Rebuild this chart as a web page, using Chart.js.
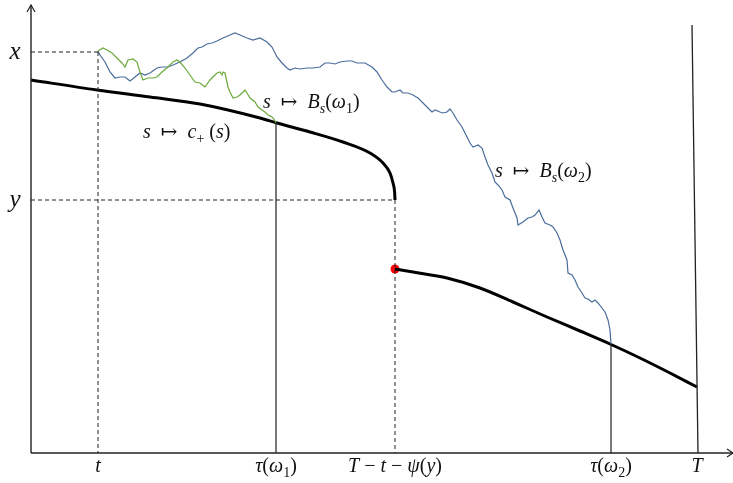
<!DOCTYPE html>
<html>
<head>
<meta charset="utf-8">
<script src="https://cdn.jsdelivr.net/npm/chart.js@4"></script>
<style>html,body{margin:0;padding:0;background:#fff}</style>
</head>
<body>
<canvas id="myChart" width="733" height="483"></canvas>
<script>
// sample paths s -> B_s(w1), s -> B_s(w2)
const greenPath = [[67,402],[72,405],[76,403],[81,400],[86,395],[91,390],[94,386],[97,393],[102,394],[106,391],
  [109,381],[112,373],[117,375],[122,375],[126,376],[131,381],[137,386],[142,391],[146,393],[149,391],[154,385],
  [159,378],[164,371],[169,370],[174,366],[179,373],[182,376],[186,380],[189,381],
  [191,378],[192,381],[194,380],[197,366],[199,361],[202,355],[206,356],[209,358],[212,361],[214,363],[216,360],
  [219,355],[224,351],[227,346],[231,343],[234,341],[237,338],[241,336],[243,334],[245,330]];
const bluePath = [[67,402],[69,398],[74,391],[79,381],[84,375],[89,376],[94,376],[99,372],[104,376],[109,380],
  [114,378],[119,380],[126,385],[131,386],[137,386],[142,388],[149,391],[156,395],[162,400],[167,405],
  [171,406],[176,409],[181,410],[186,412],[192,415],
  [199,418],[204,420],[209,418],[216,415],[222,413],[229,415],[236,411],[241,406],[246,396],[251,390],[256,385],
  [259,383],[264,385],[269,384],[276,385],[282,385],[289,386],[294,390],[299,390],[304,389],[309,391],[316,392],
  [321,392],[326,390],[334,390],[341,386],[346,381],[351,373],[356,366],[361,361],[364,361],[369,363],[372,360],
  [377,360],[382,358],[387,355],[392,350],[397,345],[401,341],[404,343],[409,341],[412,340],[416,341],[419,344],
  [422,340],[426,333],[431,326],[434,320],[439,310],[442,306],[447,308],[451,305],[454,296],[457,288],[461,280],
  [464,271],[467,268],[471,263],[474,256],[479,253],[482,245],[486,235],[487,228],[492,231],[497,235],[501,236],
  [504,238],[508,243],[511,236],[514,230],[519,228],[522,226],[526,220],[529,213],[532,203],[536,193],[537,180],
  [541,178],[544,173],[547,166],[551,160],[554,155],[557,154],[561,151],[564,153],[567,150],[571,145],[574,141],
  [577,133],[579,123],[580,109]];
// boundary c_+ before and after the jump
const boundaryLeft = [[0,373],[66,363],[119,356],[169,349],[229,335],[246,330],[279,321],[312,311],[339,300],
  [352,290],[359,280],[362,270],[363.6,261],[364,253]];
const boundaryRight = [[364,184],[382,181],[416,175],[449,165],[482,151],[516,136],[549,122],[579,109],
  [609,95],[639,80],[666,66]];
const jumpPoint = [364,184];
const xLevel = 401;
const yLevel = 253;
const tau1 = 245, tau1Hit = 330;
const tau2 = 580, tau2Hit = 109;
const tTime = 67, jumpTime = 364;
const bigT = [[661,428],[667,0]];
const tickPos = [67, 245, 364, 580, 666];
const tickLabels = [
  [['t','i']],
  [['τ','i'],['('],['ω','i'],['1','sub'],[')']],
  [['T','i'],[' − '],['t','i'],[' − '],['ψ','i'],['('],['y','i'],[')']],
  [['τ','i'],['('],['ω','i'],['2','sub'],[')']],
  [['T','i']]
];

const pts = a => a.map(([x, y]) => ({x, y}));
const line = (data, color, width, dash, smooth) => ({
  data: pts(data), showLine: true, borderColor: color, borderWidth: width,
  borderDash: dash || [], pointRadius: 0, clip: false,
  cubicInterpolationMode: smooth ? 'monotone' : 'default', tension: 0
});

const datasets = [
  line([[0,0],[702,0]], '#222', 1.4),
  line([[0,0],[0,448]], '#222', 1.4),
  line([[-4,441],[0,448],[4,441]], '#222', 1.2),
  line([[696,4],[702,0],[696,-4]], '#222', 1.2),
  line([[0,xLevel],[tTime,xLevel]], '#222', 1, [4,3]),
  line([[tTime,xLevel],[tTime,0]], '#222', 1, [4,3]),
  line([[0,yLevel],[jumpTime,yLevel]], '#222', 1, [4,3]),
  line([[jumpTime,yLevel],[jumpTime,0]], '#222', 1, [4,3]),
  line([[tau1,tau1Hit],[tau1,0]], '#222', 1.2),
  line([[tau2,tau2Hit],[tau2,0]], '#222', 1.2),
  line(bigT, '#222', 1.3),
  line(greenPath, '#6aaa3a', 1.2),
  line(bluePath, '#4a6d9c', 1.2),
  line(boundaryLeft, '#000', 3, null, true),
  line(boundaryRight, '#000', 3, null, true),
  {data: pts([jumpPoint]), pointRadius: 4.5, backgroundColor: '#f00', borderWidth: 0, clip: false}
];

const texts = [
  {at: [-16, xLevel], parts: [['x','i']], size: 25, align: 'center'},
  {at: [-16, yLevel], parts: [['y','i']], size: 25, align: 'center'},
  {at: [232, 350], parts: [['s','i'],['  ↦  '],['B','i'],['s','isub'],['('],['ω','i'],['1','sub'],[')']], size: 20},
  {at: [112, 320], parts: [['s','i'],['  ↦  '],['c','i'],['+','sub'],[' ('],['s','i'],[')']], size: 20},
  {at: [464, 281], parts: [['s','i'],['  ↦  '],['B','i'],['s','isub'],['('],['ω','i'],['2','sub'],[')']], size: 20}
];
tickPos.forEach((p, i) => texts.push({at: [p, -14], parts: tickLabels[i], size: 20, align: 'center'}));

function fontFor(style, size) {
  const s = style && style.includes('sub') ? Math.round(size * 0.7) : size;
  const it = style && style.startsWith('i') ? 'italic ' : '';
  return it + s + 'px "Liberation Serif", "DejaVu Serif", serif';
}

const mathText = {
  id: 'mathText',
  afterDatasetsDraw(chart) {
    const {ctx, scales: {x, y}} = chart;
    ctx.save();
    ctx.fillStyle = '#111';
    ctx.textBaseline = 'middle';
    texts.forEach(t => {
      let w = 0;
      t.parts.forEach(([s, st]) => { ctx.font = fontFor(st, t.size); w += ctx.measureText(s).width; });
      let px = x.getPixelForValue(t.at[0]);
      const py = y.getPixelForValue(t.at[1]);
      if (t.align === 'center') px -= w / 2;
      t.parts.forEach(([s, st]) => {
        ctx.font = fontFor(st, t.size);
        const dy = st && st.includes('sub') ? t.size * 0.3 : 0;
        ctx.fillText(s, px, py + dy);
        px += ctx.measureText(s).width;
      });
    });
    ctx.restore();
  }
};

new Chart(document.getElementById('myChart'), {
  type: 'scatter',
  data: {datasets},
  options: {
    responsive: false,
    animation: false,
    layout: {padding: 0, autoPadding: false},
    plugins: {legend: {display: false}, tooltip: {enabled: false}},
    scales: {
      x: {type: 'linear', min: -31, max: 702, display: false},
      y: {type: 'linear', min: -30, max: 453, display: false}
    }
  },
  plugins: [mathText]
});
</script>
</body>
</html>
